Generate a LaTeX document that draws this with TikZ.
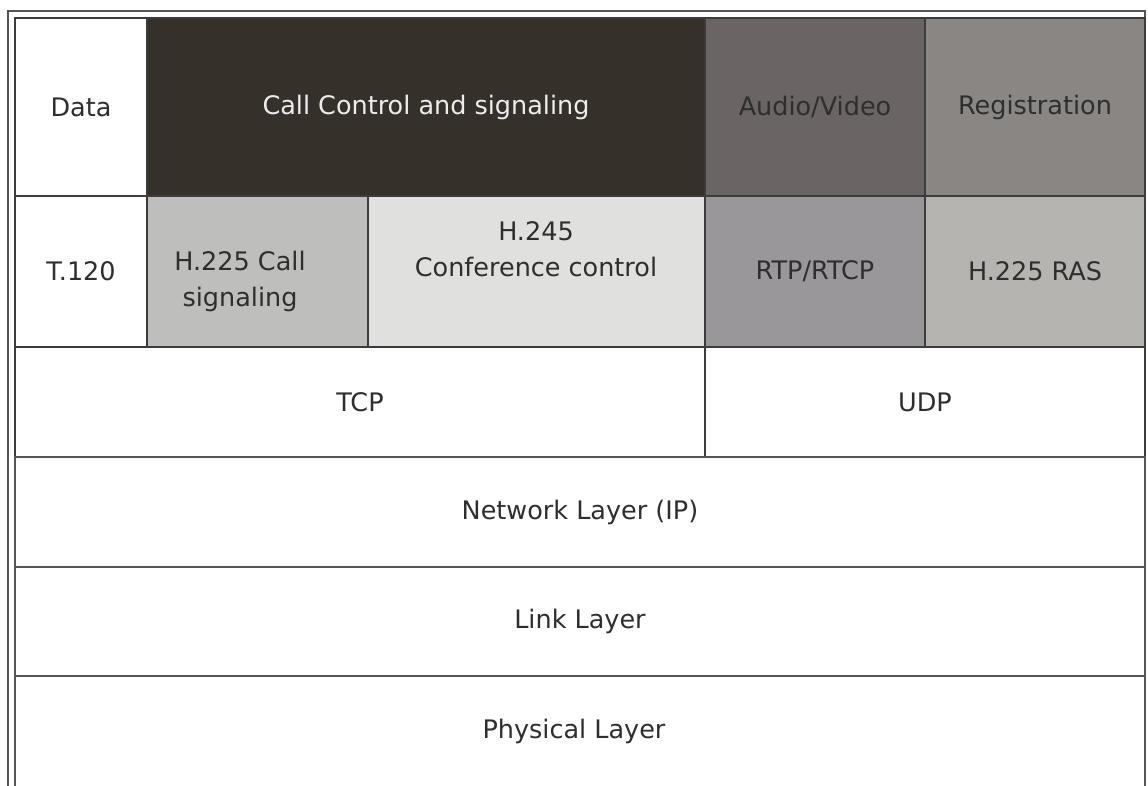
\documentclass[tikz,border=0pt]{standalone}
\usepackage{fontspec}
\setmainfont{DejaVu Sans}
\definecolor{linec}{HTML}{3C3C3C}
\definecolor{framec}{HTML}{555555}
\definecolor{txt}{HTML}{2E2E2E}
\definecolor{callc}{HTML}{36302B}
\definecolor{avc}{HTML}{6B6464}
\definecolor{regc}{HTML}{8A8684}
\definecolor{hcallc}{HTML}{BEBEBC}
\definecolor{hconfc}{HTML}{E0E0DF}
\definecolor{rtpc}{HTML}{9A979A}
\definecolor{rasc}{HTML}{B5B4B1}
\begin{document}
\begin{tikzpicture}[x=1pt,y=-1pt,
  cell/.style={draw=linec, line width=1.4pt, anchor=north west, inner sep=0pt, outer sep=0pt},
  lbl/.style={font=\fontsize{25.5}{36}\selectfont, text=txt, align=center, inner sep=0pt},
  lbllight/.style={lbl, text=white!93!black},
  frame/.style={draw=framec, line width=1.4pt}]
  % canvas
  \path[fill=white, use as bounding box] (0,0) rectangle (1148,785);
  % outer frame line
  \draw[frame] (8,790) -- (8,11) -- (1145,11) -- (1145,790);
  % application row
  \node[cell, fill=white, minimum width=132pt, minimum height=178pt] (data) at (15,18) {};
  \node[cell, fill=callc, minimum width=558pt, minimum height=178pt] (call) at (147,18) {};
  \node[cell, fill=avc, minimum width=220pt, minimum height=178pt] (av) at (705,18) {};
  \node[cell, fill=regc, minimum width=220pt, minimum height=178pt] (reg) at (925,18) {};
  % protocol row
  \node[cell, fill=white, minimum width=132pt, minimum height=151pt] (t120) at (15,196) {};
  \node[cell, fill=hcallc, minimum width=221pt, minimum height=151pt] (h225c) at (147,196) {};
  \node[cell, fill=hconfc, minimum width=337pt, minimum height=151pt] (h245) at (368,196) {};
  \node[cell, fill=rtpc, minimum width=220pt, minimum height=151pt] (rtp) at (705,196) {};
  \node[cell, fill=rasc, minimum width=220pt, minimum height=151pt] (ras) at (925,196) {};
  % transport row
  \node[cell, fill=white, minimum width=690pt, minimum height=110pt] (tcp) at (15,347) {};
  \node[cell, fill=white, minimum width=440pt, minimum height=110pt] (udp) at (705,347) {};
  % lower layers
  \node[cell, draw=framec, fill=white, minimum width=1130pt, minimum height=110pt] (net) at (15,457) {};
  \node[cell, draw=framec, fill=white, minimum width=1130pt, minimum height=109pt] (link) at (15,567) {};
  \node[cell, draw=framec, fill=white, minimum width=1130pt, minimum height=114pt] (phys) at (15,676) {};
  % labels
  \node[lbl] (ldata) at (data.center) {Data};
  \node[lbllight] (lcall) at (call.center) {Call Control and signaling};
  \node[lbl] (lav) at (av.center) {Audio/Video};
  \node[lbl] (lreg) at (reg.center) {Registration};
  \node[lbl] (lt120) at (t120.center) {T.120};
  \node[lbl] (lh225c) at (240,281) {H.225 Call\\signaling};
  \node[lbl] (lh245) at (536,249) {H.245\\Conference control};
  \node[lbl] (lrtp) at (rtp.center) {RTP/RTCP};
  \node[lbl] (lras) at (ras.center) {H.225 RAS};
  \node[lbl] (ltcp) at (tcp.center) {TCP};
  \node[lbl] (ludp) at (udp.center) {UDP};
  \node[lbl] (lnet) at (net.center) {Network Layer (IP)};
  \node[lbl] (llink) at (link.center) {Link Layer};
  \node[lbl] (lphys) at (574,731) {Physical Layer};
\end{tikzpicture}
\end{document}
